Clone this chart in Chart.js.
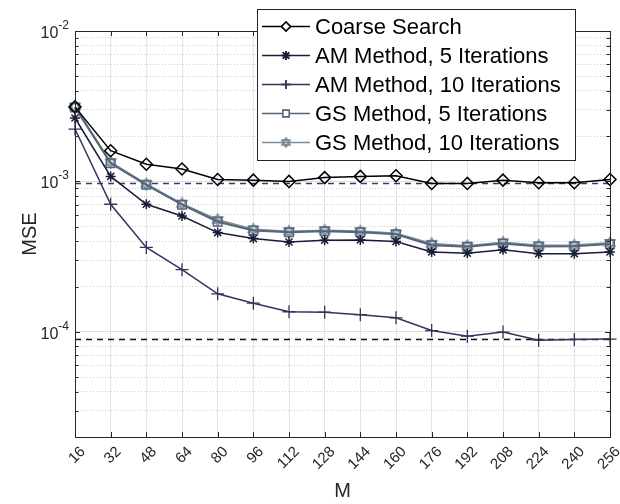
<!DOCTYPE html>
<html>
<head>
<meta charset="utf-8">
<script src="https://cdn.jsdelivr.net/npm/chart.js@4.4.1/dist/chart.umd.min.js"></script>
<style>
  html, body { margin: 0; padding: 0; background: #fff; }
  #grafico { display: block; }
</style>
</head>
<body>
<canvas id="grafico" width="620" height="504"></canvas>
<script>
const etiquetasM = ['16', '32', '48', '64', '80', '96', '112', '128', '144', '160', '176', '192', '208', '224', '240', '256'];
const nombres = ['Coarse Search', 'AM Method, 5 Iterations', 'AM Method, 10 Iterations', 'GS Method, 5 Iterations', 'GS Method, 10 Iterations'];

const mseCoarse = [3.13e-3, 1.60e-3, 1.30e-3, 1.21e-3, 1.03e-3, 1.02e-3, 1.00e-3, 1.06e-3, 1.08e-3, 1.09e-3, 0.97e-3, 0.97e-3, 1.02e-3, 0.98e-3, 0.98e-3, 1.03e-3];
const mseAM5 = [2.64e-3, 1.08e-3, 7.05e-4, 5.89e-4, 4.57e-4, 4.17e-4, 3.96e-4, 4.07e-4, 4.08e-4, 3.99e-4, 3.40e-4, 3.33e-4, 3.51e-4, 3.31e-4, 3.31e-4, 3.40e-4];
const mseAM10 = [2.23e-3, 7.05e-4, 3.64e-4, 2.59e-4, 1.79e-4, 1.55e-4, 1.36e-4, 1.35e-4, 1.30e-4, 1.24e-4, 1.02e-4, 9.36e-5, 9.96e-5, 8.81e-5, 8.9e-5, 8.95e-5];
const mseGS5 = [3.10e-3, 1.32e-3, 9.5e-4, 7.0e-4, 5.4e-4, 4.72e-4, 4.60e-4, 4.67e-4, 4.60e-4, 4.45e-4, 3.77e-4, 3.68e-4, 3.86e-4, 3.70e-4, 3.71e-4, 3.83e-4];
const mseGS10 = [3.14e-3, 1.34e-3, 9.6e-4, 7.1e-4, 5.55e-4, 4.8e-4, 4.65e-4, 4.72e-4, 4.66e-4, 4.5e-4, 3.85e-4, 3.72e-4, 3.92e-4, 3.75e-4, 3.76e-4, 3.9e-4];

// lineas de referencia punteadas
const lineaAlta = 9.7e-4;
const lineaBaja = 8.9e-5;

const marcasY = [2e-5, 3e-5, 4e-5, 5e-5, 6e-5, 7e-5, 8e-5, 9e-5,
  1e-4, 2e-4, 3e-4, 4e-4, 5e-4, 6e-4, 7e-4, 8e-4, 9e-4,
  1e-3, 2e-3, 3e-3, 4e-3, 5e-3, 6e-3, 7e-3, 8e-3, 9e-3, 1e-2];
const decadas = [1e-4, 1e-3, 1e-2];
const exponentes = ['-4', '-3', '-2'];

const fuente = '"Liberation Sans", Arial, sans-serif';
const esDecada = v => decadas.includes(v);

// hexagrama para GS 10 iteraciones
function hexagrama(color, r) {
  const c = document.createElement('canvas');
  const s = Math.ceil(r * 2 + 4);
  c.width = s; c.height = s;
  const g = c.getContext('2d');
  g.strokeStyle = color;
  g.lineWidth = 1.3;
  [-Math.PI / 2, Math.PI / 2].forEach(a0 => {
    g.beginPath();
    for (let k = 0; k < 3; k++) {
      const a = a0 + k * 2 * Math.PI / 3;
      const px = s / 2 + r * Math.cos(a), py = s / 2 + r * Math.sin(a);
      k === 0 ? g.moveTo(px, py) : g.lineTo(px, py);
    }
    g.closePath();
    g.stroke();
  });
  return c;
}

const colGS10 = '#7a8c99';
const estrellaGS = hexagrama(colGS10, 6);
const estrellaLeyenda = hexagrama(colGS10, 4.5);

const datasets = [
  { label: nombres[0], data: mseCoarse, borderColor: '#000000', borderWidth: 1.5,
    pointStyle: 'rectRot', pointRadius: 6, pointBorderWidth: 1.5, pointBackgroundColor: 'rgba(0,0,0,0)', pointBorderColor: '#000000' },
  { label: nombres[1], data: mseAM5, borderColor: '#1a1a3a', borderWidth: 1.5,
    pointStyle: 'star', pointRadius: 5, pointBorderWidth: 1.5, pointBorderColor: '#1a1a3a' },
  { label: nombres[2], data: mseAM10, borderColor: '#33335e', borderWidth: 1.5,
    pointStyle: 'cross', pointRadius: 6.5, pointBorderWidth: 1.3, pointBorderColor: '#33335e' },
  { label: nombres[3], data: mseGS5, borderColor: '#56657a', borderWidth: 2,
    pointStyle: 'rect', pointRadius: 6, pointBorderWidth: 1.5, pointBackgroundColor: 'rgba(0,0,0,0)', pointBorderColor: '#56657a' },
  { label: nombres[4], data: mseGS10, borderColor: colGS10, borderWidth: 2,
    pointStyle: estrellaGS, pointRadius: 6, pointBorderColor: colGS10 }
];

const marcoPlugin = {
  id: 'marco',
  beforeDatasetsDraw(chart) {
    const { ctx, chartArea: a, scales: { y } } = chart;
    ctx.save();
    ctx.lineWidth = 1.5;
    ctx.setLineDash([6, 5]);
    ctx.strokeStyle = '#3a3a6a';
    let py = y.getPixelForValue(lineaAlta);
    ctx.beginPath(); ctx.moveTo(a.left, py); ctx.lineTo(a.right, py); ctx.stroke();
    ctx.strokeStyle = '#111111';
    py = y.getPixelForValue(lineaBaja);
    ctx.beginPath(); ctx.moveTo(a.left, py); ctx.lineTo(a.right, py); ctx.stroke();
    ctx.restore();
  },
  afterDatasetsDraw(chart) {
    const { ctx, chartArea: a, scales: { x, y } } = chart;
    ctx.save();
    ctx.strokeStyle = '#262626';
    ctx.lineWidth = 1;
    ctx.strokeRect(Math.round(a.left) + 0.5, Math.round(a.top) + 0.5, Math.round(a.right - a.left), Math.round(a.bottom - a.top));
    ctx.beginPath();
    etiquetasM.forEach((_, i) => {
      const px = Math.round(x.getPixelForValue(i)) + 0.5;
      ctx.moveTo(px, a.bottom); ctx.lineTo(px, a.bottom - 5);
      ctx.moveTo(px, a.top); ctx.lineTo(px, a.top + 5);
    });
    marcasY.forEach(v => {
      const py = Math.round(y.getPixelForValue(v)) + 0.5;
      const l = esDecada(v) ? 5 : 3.5;
      ctx.moveTo(a.left, py); ctx.lineTo(a.left + l, py);
      ctx.moveTo(a.right, py); ctx.lineTo(a.right - l, py);
    });
    ctx.stroke();

    // etiquetas del eje y con exponente
    ctx.fillStyle = '#262626';
    ctx.textBaseline = 'alphabetic';
    ctx.textAlign = 'right';
    decadas.forEach((v, i) => {
      const py = y.getPixelForValue(v);
      ctx.font = '12px ' + fuente;
      const wExp = ctx.measureText(exponentes[i]).width;
      ctx.fillText(exponentes[i], a.left - 6, py - 2);
      ctx.font = '16px ' + fuente;
      ctx.fillText('10', a.left - 6 - wExp, py + 7);
    });
    ctx.restore();
  },
  afterDraw(chart) {
    const { ctx } = chart;
    const caja = { x: 257.5, y: 9.5, w: 318, h: 151 };
    ctx.save();
    ctx.fillStyle = '#ffffff';
    ctx.fillRect(caja.x, caja.y, caja.w, caja.h);
    ctx.strokeStyle = '#262626';
    ctx.lineWidth = 1;
    ctx.strokeRect(caja.x, caja.y, caja.w, caja.h);
    chart.data.datasets.forEach((ds, i) => {
      const ry = 26.5 + i * 29;
      ctx.strokeStyle = ds.borderColor;
      ctx.lineWidth = 1.5;
      ctx.beginPath(); ctx.moveTo(262, ry); ctx.lineTo(310, ry); ctx.stroke();
      ctx.fillStyle = '#ffffff';
      const estilo = ds.pointStyle === estrellaGS ? estrellaLeyenda : ds.pointStyle;
      Chart.helpers.drawPoint(ctx, { pointStyle: estilo, radius: 4.5, rotation: 0, borderWidth: 1.3 }, 286, ry);
      if (ds.pointStyle === 'rectRot' || ds.pointStyle === 'rect') {
        ctx.fill();
      }
      Chart.helpers.drawPoint(ctx, { pointStyle: estilo, radius: 4.5, rotation: 0, borderWidth: 1.3 }, 286, ry);
      ctx.fillStyle = '#000000';
      ctx.font = '22px ' + fuente;
      ctx.textAlign = 'left';
      ctx.textBaseline = 'middle';
      ctx.fillText(ds.label, 315, ry + 1);
    });
    ctx.restore();
  }
};

new Chart(document.getElementById('grafico'), {
  type: 'line',
  data: { labels: etiquetasM, datasets: datasets },
  options: {
    responsive: false,
    animation: false,
    layout: { padding: { left: 0, right: 10, top: 31, bottom: 0 } },
    elements: { line: { tension: 0 } },
    plugins: { legend: { display: false }, tooltip: { enabled: false } },
    scales: {
      x: {
        type: 'category',
        offset: false,
        grid: { color: '#e4e4e4', drawTicks: false },
        border: { display: false },
        ticks: {
          autoSkip: false, maxRotation: 45, minRotation: 45,
          color: '#262626', font: { size: 15, family: fuente },
          padding: 6, labelOffset: 8
        },
        title: { display: true, text: 'M', color: '#262626', font: { size: 20, family: fuente }, padding: { top: 0, bottom: 1 } },
        afterFit(scale) {
          scale.height = 67;
          scale.paddingLeft = 0;
          scale.paddingRight = 0;
        }
      },
      y: {
        type: 'logarithmic',
        min: 2e-5,
        max: 1e-2,
        afterBuildTicks(scale) { scale.ticks = marcasY.map(v => ({ value: v })); },
        grid: {
          color: c => (c.tick && esDecada(c.tick.value)) ? '#dedede' : '#cdcdcd',
          drawTicks: false
        },
        border: {
          display: false,
          dash: c => (c.tick && !esDecada(c.tick.value)) ? [1, 2] : []
        },
        ticks: { callback: () => '', autoSkip: false },
        title: { display: true, text: 'MSE', color: '#262626', font: { size: 20, family: fuente }, padding: { top: 18, bottom: 0 } },
        afterFit(scale) { scale.width = 75; }
      }
    }
  },
  plugins: [marcoPlugin]
});
</script>
</body>
</html>
